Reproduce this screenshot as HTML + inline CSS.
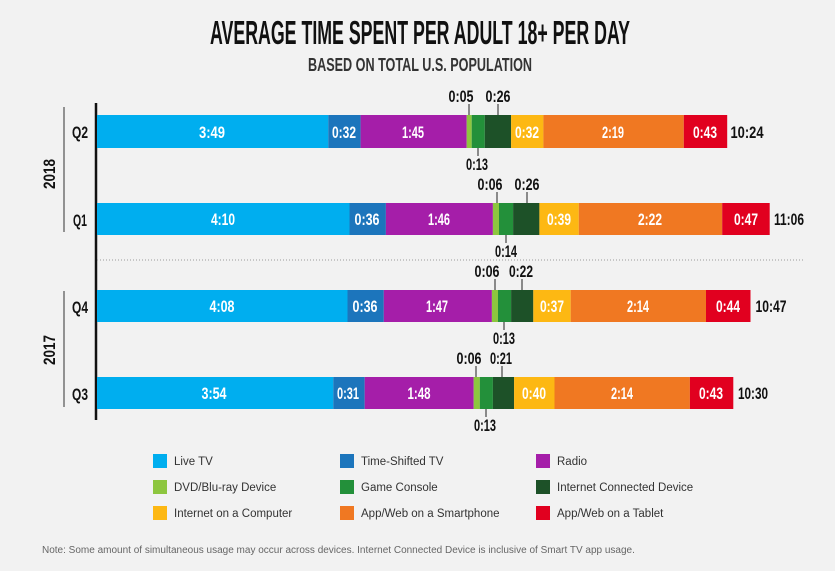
<!DOCTYPE html>
<html><head><meta charset="utf-8"><style>
html,body{margin:0;padding:0;background:#f2f2f2;}
svg{display:block}
.b{font-family:"Liberation Sans",sans-serif;font-weight:bold;font-size:17px;fill:#fff;text-anchor:middle}
.k{font-family:"Liberation Sans",sans-serif;font-weight:bold;font-size:17px;fill:#111;text-anchor:middle}
.lg{font-family:"Liberation Sans",sans-serif;font-size:11.5px;fill:#333}
</style></head><body>
<svg width="835" height="571" viewBox="0 0 835 571" xmlns="http://www.w3.org/2000/svg">
<rect width="835" height="571" fill="#f2f2f2"/>
<text x="420" y="44" class="k" style="font-size:33px" textLength="420" lengthAdjust="spacingAndGlyphs">AVERAGE TIME SPENT PER ADULT 18+ PER DAY</text>
<text x="420" y="71" class="k" style="font-size:18px;fill:#333" textLength="224" lengthAdjust="spacingAndGlyphs">BASED ON TOTAL U.S. POPULATION</text>

<line x1="96" y1="103" x2="96" y2="420" stroke="#111" stroke-width="2.5"/>
<line x1="64" y1="107" x2="64" y2="232" stroke="#333" stroke-width="1"/>
<line x1="64" y1="291" x2="64" y2="407" stroke="#333" stroke-width="1"/>
<line x1="97" y1="260" x2="805" y2="260" stroke="#999" stroke-width="1" stroke-dasharray="1,2"/>
<text class="k" transform="translate(55,174) rotate(-90)" textLength="30" lengthAdjust="spacingAndGlyphs">2018</text>
<text class="k" transform="translate(55,350) rotate(-90)" textLength="30" lengthAdjust="spacingAndGlyphs">2017</text>
<text class="k" x="80" y="138" textLength="16" lengthAdjust="spacingAndGlyphs">Q2</text>
<text class="k" x="80" y="226" textLength="14" lengthAdjust="spacingAndGlyphs">Q1</text>
<text class="k" x="80" y="313" textLength="16" lengthAdjust="spacingAndGlyphs">Q4</text>
<text class="k" x="80" y="400" textLength="16" lengthAdjust="spacingAndGlyphs">Q3</text>

<!-- Q2 -->
<g transform="translate(0,115)">
<rect x="97" y="0" width="231.3" height="33" fill="#00aeef"/>
<rect x="328.3" y="0" width="32.3" height="33" fill="#1c75bc"/>
<rect x="360.6" y="0" width="106.1" height="33" fill="#a51ea9"/>
<rect x="466.7" y="0" width="5" height="33" fill="#8dc63f"/>
<rect x="471.7" y="0" width="13.1" height="33" fill="#23903a"/>
<rect x="484.8" y="0" width="26.3" height="33" fill="#1d5128"/>
<rect x="511.1" y="0" width="32.3" height="33" fill="#fdb813"/>
<rect x="543.4" y="0" width="140.4" height="33" fill="#f07822"/>
<rect x="683.8" y="0" width="43.4" height="33" fill="#e1001f"/>
<text class="b" x="212" y="23" textLength="26" lengthAdjust="spacingAndGlyphs">3:49</text>
<text class="b" x="344" y="23" textLength="24" lengthAdjust="spacingAndGlyphs">0:32</text>
<text class="b" x="413" y="23" textLength="22" lengthAdjust="spacingAndGlyphs">1:45</text>
<text class="b" x="527" y="23" textLength="24" lengthAdjust="spacingAndGlyphs">0:32</text>
<text class="b" x="613" y="23" textLength="22" lengthAdjust="spacingAndGlyphs">2:19</text>
<text class="b" x="705" y="23" textLength="24" lengthAdjust="spacingAndGlyphs">0:43</text>
<text class="k" x="747" y="23" textLength="33" lengthAdjust="spacingAndGlyphs">10:24</text>
<line x1="469" y1="-11" x2="469" y2="0" stroke="#222"/>
<line x1="498" y1="-11" x2="498" y2="0" stroke="#222"/>
<line x1="478" y1="33" x2="478" y2="41" stroke="#222"/>
<text class="k" x="461" y="-13" textLength="25" lengthAdjust="spacingAndGlyphs">0:05</text>
<text class="k" x="498" y="-13" textLength="25" lengthAdjust="spacingAndGlyphs">0:26</text>
<text class="k" x="477" y="55" textLength="22" lengthAdjust="spacingAndGlyphs">0:13</text>
</g>

<!-- Q1 -->
<g transform="translate(0,203)">
<rect x="97" y="0" width="252.5" height="32" fill="#00aeef"/>
<rect x="349.5" y="0" width="36.4" height="32" fill="#1c75bc"/>
<rect x="385.9" y="0" width="107" height="32" fill="#a51ea9"/>
<rect x="492.9" y="0" width="6.1" height="32" fill="#8dc63f"/>
<rect x="499" y="0" width="14.1" height="32" fill="#23903a"/>
<rect x="513.1" y="0" width="26.3" height="32" fill="#1d5128"/>
<rect x="539.4" y="0" width="39.4" height="32" fill="#fdb813"/>
<rect x="578.8" y="0" width="143.4" height="32" fill="#f07822"/>
<rect x="722.2" y="0" width="47.5" height="32" fill="#e1001f"/>
<text class="b" x="223" y="22" textLength="24" lengthAdjust="spacingAndGlyphs">4:10</text>
<text class="b" x="367" y="22" textLength="25" lengthAdjust="spacingAndGlyphs">0:36</text>
<text class="b" x="439" y="22" textLength="22" lengthAdjust="spacingAndGlyphs">1:46</text>
<text class="b" x="559" y="22" textLength="24" lengthAdjust="spacingAndGlyphs">0:39</text>
<text class="b" x="650" y="22" textLength="24" lengthAdjust="spacingAndGlyphs">2:22</text>
<text class="b" x="746" y="22" textLength="24" lengthAdjust="spacingAndGlyphs">0:47</text>
<text class="k" x="789" y="22" textLength="30" lengthAdjust="spacingAndGlyphs">11:06</text>
<line x1="497" y1="-11" x2="497" y2="0" stroke="#222"/>
<line x1="527" y1="-11" x2="527" y2="0" stroke="#222"/>
<line x1="506" y1="32" x2="506" y2="40" stroke="#222"/>
<text class="k" x="490" y="-13" textLength="25" lengthAdjust="spacingAndGlyphs">0:06</text>
<text class="k" x="527" y="-13" textLength="25" lengthAdjust="spacingAndGlyphs">0:26</text>
<text class="k" x="506" y="54" textLength="22" lengthAdjust="spacingAndGlyphs">0:14</text>
</g>

<!-- Q4 -->
<g transform="translate(0,290)">
<rect x="97" y="0" width="250.5" height="32" fill="#00aeef"/>
<rect x="347.5" y="0" width="36.3" height="32" fill="#1c75bc"/>
<rect x="383.8" y="0" width="108.1" height="32" fill="#a51ea9"/>
<rect x="491.9" y="0" width="6.1" height="32" fill="#8dc63f"/>
<rect x="498" y="0" width="13.1" height="32" fill="#23903a"/>
<rect x="511.1" y="0" width="22.2" height="32" fill="#1d5128"/>
<rect x="533.3" y="0" width="37.4" height="32" fill="#fdb813"/>
<rect x="570.7" y="0" width="135.3" height="32" fill="#f07822"/>
<rect x="706" y="0" width="44.5" height="32" fill="#e1001f"/>
<text class="b" x="222" y="22" textLength="25" lengthAdjust="spacingAndGlyphs">4:08</text>
<text class="b" x="365" y="22" textLength="25" lengthAdjust="spacingAndGlyphs">0:36</text>
<text class="b" x="437" y="22" textLength="22" lengthAdjust="spacingAndGlyphs">1:47</text>
<text class="b" x="552" y="22" textLength="24" lengthAdjust="spacingAndGlyphs">0:37</text>
<text class="b" x="638" y="22" textLength="22" lengthAdjust="spacingAndGlyphs">2:14</text>
<text class="b" x="728" y="22" textLength="24" lengthAdjust="spacingAndGlyphs">0:44</text>
<text class="k" x="771" y="22" textLength="31" lengthAdjust="spacingAndGlyphs">10:47</text>
<line x1="495" y1="-11" x2="495" y2="0" stroke="#222"/>
<line x1="522" y1="-11" x2="522" y2="0" stroke="#222"/>
<line x1="504" y1="32" x2="504" y2="40" stroke="#222"/>
<text class="k" x="487" y="-13" textLength="25" lengthAdjust="spacingAndGlyphs">0:06</text>
<text class="k" x="521" y="-13" textLength="24" lengthAdjust="spacingAndGlyphs">0:22</text>
<text class="k" x="504" y="54" textLength="22" lengthAdjust="spacingAndGlyphs">0:13</text>
</g>

<!-- Q3 -->
<g transform="translate(0,377)">
<rect x="97" y="0" width="236.3" height="32" fill="#00aeef"/>
<rect x="333.3" y="0" width="31.4" height="32" fill="#1c75bc"/>
<rect x="364.7" y="0" width="109" height="32" fill="#a51ea9"/>
<rect x="473.7" y="0" width="6.1" height="32" fill="#8dc63f"/>
<rect x="479.8" y="0" width="13.1" height="32" fill="#23903a"/>
<rect x="492.9" y="0" width="21.2" height="32" fill="#1d5128"/>
<rect x="514.1" y="0" width="40.4" height="32" fill="#fdb813"/>
<rect x="554.5" y="0" width="135.4" height="32" fill="#f07822"/>
<rect x="689.9" y="0" width="43.4" height="32" fill="#e1001f"/>
<text class="b" x="214" y="22" textLength="25" lengthAdjust="spacingAndGlyphs">3:54</text>
<text class="b" x="348" y="22" textLength="22" lengthAdjust="spacingAndGlyphs">0:31</text>
<text class="b" x="419" y="22" textLength="23" lengthAdjust="spacingAndGlyphs">1:48</text>
<text class="b" x="534" y="22" textLength="24" lengthAdjust="spacingAndGlyphs">0:40</text>
<text class="b" x="622" y="22" textLength="22" lengthAdjust="spacingAndGlyphs">2:14</text>
<text class="b" x="711" y="22" textLength="24" lengthAdjust="spacingAndGlyphs">0:43</text>
<text class="k" x="753" y="22" textLength="30" lengthAdjust="spacingAndGlyphs">10:30</text>
<line x1="476" y1="-11" x2="476" y2="0" stroke="#222"/>
<line x1="502" y1="-11" x2="502" y2="0" stroke="#222"/>
<line x1="486" y1="32" x2="486" y2="40" stroke="#222"/>
<text class="k" x="469" y="-13" textLength="25" lengthAdjust="spacingAndGlyphs">0:06</text>
<text class="k" x="501" y="-13" textLength="22" lengthAdjust="spacingAndGlyphs">0:21</text>
<text class="k" x="485" y="54" textLength="22" lengthAdjust="spacingAndGlyphs">0:13</text>
</g>

<!-- legend -->
<rect x="153" y="454" width="14" height="14" fill="#00aeef"/><text class="lg" x="174" y="465">Live TV</text>
<rect x="340" y="454" width="14" height="14" fill="#1c75bc"/><text class="lg" x="361" y="465">Time-Shifted TV</text>
<rect x="536" y="454" width="14" height="14" fill="#a51ea9"/><text class="lg" x="557" y="465">Radio</text>
<rect x="153" y="480" width="14" height="14" fill="#8dc63f"/><text class="lg" x="174" y="491">DVD/Blu-ray Device</text>
<rect x="340" y="480" width="14" height="14" fill="#23903a"/><text class="lg" x="361" y="491">Game Console</text>
<rect x="536" y="480" width="14" height="14" fill="#1d5128"/><text class="lg" x="557" y="491">Internet Connected Device</text>
<rect x="153" y="506" width="14" height="14" fill="#fdb813"/><text class="lg" x="174" y="517">Internet on a Computer</text>
<rect x="340" y="506" width="14" height="14" fill="#f07822"/><text class="lg" x="361" y="517">App/Web on a Smartphone</text>
<rect x="536" y="506" width="14" height="14" fill="#e1001f"/><text class="lg" x="557" y="517">App/Web on a Tablet</text>

<text x="42" y="553" font-family="Liberation Sans, sans-serif" font-size="10" fill="#666">Note: Some amount of simultaneous usage may occur across devices. Internet Connected Device is inclusive of Smart TV app usage.</text>
</svg>
</body></html>
